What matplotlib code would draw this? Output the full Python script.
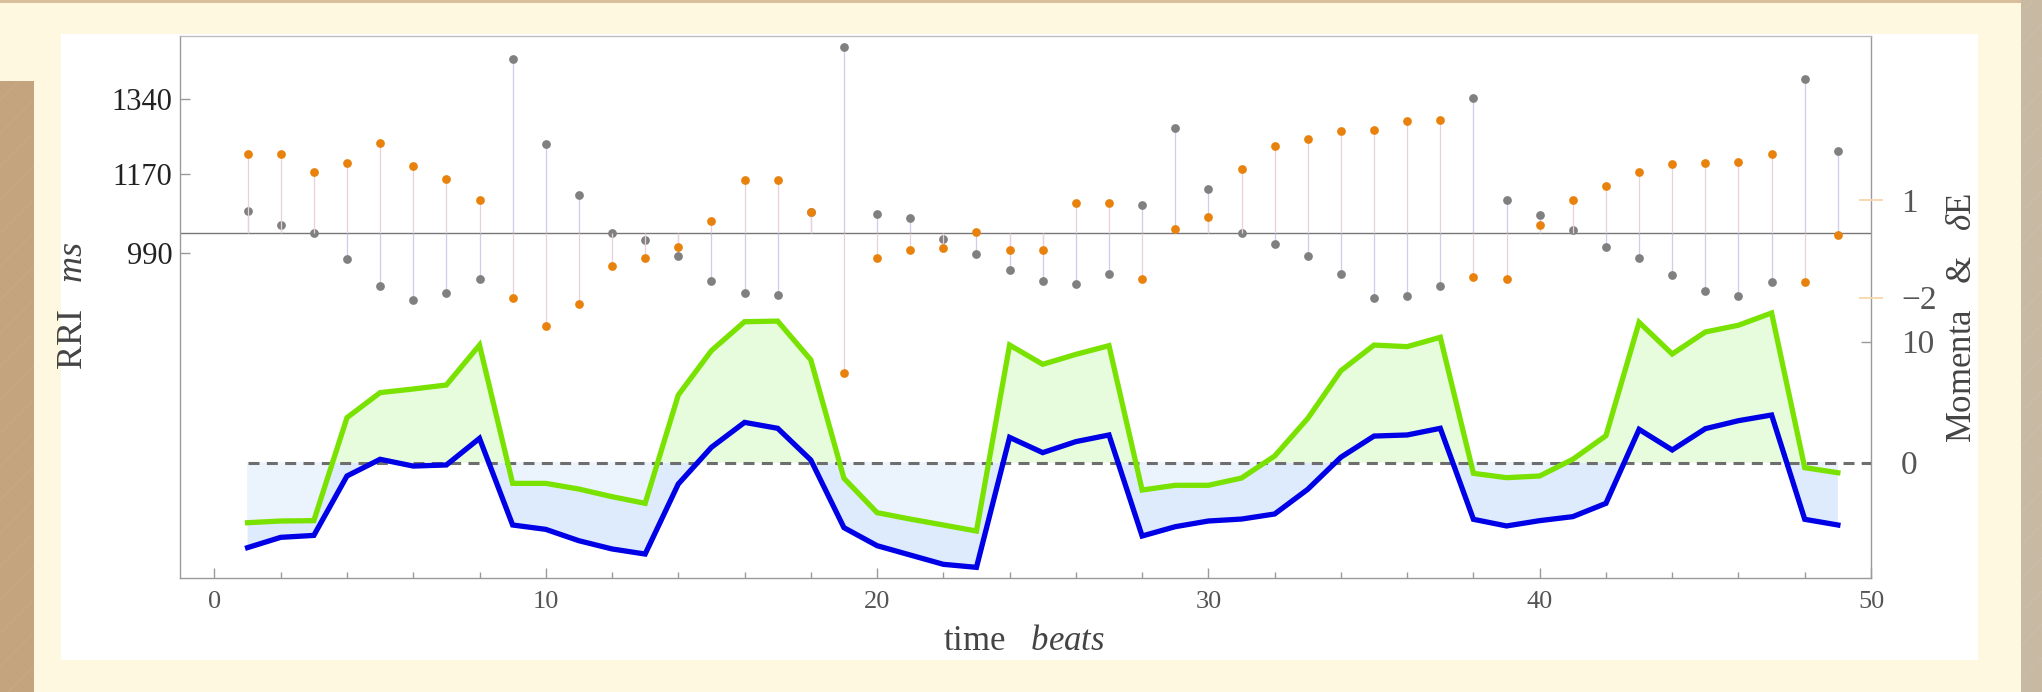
import numpy as np
import matplotlib.pyplot as plt
from matplotlib.patches import Rectangle
from matplotlib.ticker import MultipleLocator

plt.rcParams['font.family'] = ['Liberation Serif', 'DejaVu Serif']
plt.rcParams['mathtext.fontset'] = 'custom'
plt.rcParams['mathtext.rm'] = 'Liberation Serif'
plt.rcParams['mathtext.it'] = 'Liberation Serif:italic'
plt.rcParams['hatch.linewidth'] = 0.5

# ======= DATA =======
beats = np.arange(1, 50)

rri = np.array([1087, 1055, 1036, 976, 916, 884, 900, 932, 1431, 1239,
                1123, 1036, 1020, 984, 928, 899, 896, 1085, 1459, 1079,
                1071, 1023, 988, 951, 928, 920, 944, 1100, 1276, 1136,
                1036, 1011, 984, 944, 888, 892, 916, 1343, 1111, 1076,
                1044, 1004, 980, 940, 904, 892, 924, 1387, 1223])

delta_e = np.array([2.40, 2.41, 1.87, 2.14, 2.75, 2.03, 1.64, 1.01, -2.01, -2.86,
                    -2.19, -1.03, -0.78, -0.45, 0.36, 1.61, 1.62, 0.64, -4.32, -0.79,
                    -0.54, -0.48, 0.01, -0.54, -0.54, 0.92, 0.92, -1.43, 0.12, 0.49,
                    1.95, 2.67, 2.86, 3.12, 3.14, 3.43, 3.45, -1.35, -1.43, 0.23,
                    0.99, 1.44, 1.87, 2.11, 2.15, 2.18, 2.42, -1.51, -0.07])

mom_upper = np.array([-4.96, -4.82, -4.79, 3.72, 5.79, 6.09, 6.42, 9.72, -1.71, -1.71,
                      -2.18, -2.81, -3.36, 5.59, 9.26, 11.65, 11.7, 8.5, -1.29, -4.13,
                      -4.66, -5.15, -5.65, 9.72, 8.13, 8.95, 9.67, -2.26, -1.87, -1.87,
                      -1.27, 0.55, 3.66, 7.6, 9.72, 9.59, 10.36, -0.88, -1.24, -1.10,
                      0.28, 2.23, 11.6, 8.98, 10.8, 11.36, 12.37, -0.41, -0.83])

mom_lower = np.array([-7.02, -6.17, -6.01, -1.10, 0.28, -0.28, -0.19, 2.01, -5.15, -5.51,
                      -6.45, -7.13, -7.55, -1.76, 1.27, 3.33, 2.84, 0.22, -5.37, -6.86,
                      -7.63, -8.40, -8.65, 2.09, 0.83, 1.74, 2.29, -6.06, -5.29, -4.82,
                      -4.66, -4.24, -2.20, 0.45, 2.2, 2.29, 2.84, -4.68, -5.23, -4.79,
                      -4.46, -3.36, 2.75, 1.05, 2.81, 3.47, 3.94, -4.68, -5.15])

rri_ticks = [990, 1170, 1340]
de_ticks = [-2, 1]
mom_ticks = [0, 10]
x_ticks = [0, 10, 20, 30, 40, 50]

# ======= FIGURE / BACKGROUND =======
W, H = 2042, 692
fig = plt.figure(figsize=(W / 100, H / 100), dpi=100)
fig.patch.set_facecolor('#fff8e1')


def box(x0, y0, x1, y1, **kw):
    # pixel box (top-left origin) -> figure-fraction rectangle, behind the axes
    r = Rectangle((x0 / W, 1 - y1 / H), (x1 - x0) / W, (y1 - y0) / H,
                  transform=fig.transFigure, linewidth=0, zorder=-10, **kw)
    fig.add_artist(r)
    return r


box(0, 0, W, 3, facecolor='#d8c09c')
box(0, 81, 34, H, facecolor='#c3a47e', edgecolor='#c9ac88', hatch='/')
box(2021, 0, W, H, facecolor='#c8b9a3', edgecolor='#cec0ac', hatch='/')
box(61, 34, 1978, 660, facecolor='white')

# axes frame in pixels
L, T, R, B = 180, 36, 1871, 578
ax = fig.add_axes([L / W, 1 - B / H, (R - L) / W, (B - T) / H])
ax2 = ax.twinx()
ax3 = ax.twinx()

ax.set_xlim(-1.04, 50)
ax.set_ylim(252, 1484)
ax2.set_ylim(-10.606, 6.035)
ax3.set_ylim(-9.53, 35.26)

# ======= TOP: RRI and dE stems =======
base = rri.mean()
ax.axhline(base, color='#777777', lw=1.0, zorder=2)
ax.vlines(beats, base, rri, color='#cfcdec', lw=0.9, zorder=1)
ax2.vlines(beats, 0, delta_e, color='#ead0dc', lw=0.9, zorder=1)
ax.plot(beats, rri, 'o', color='#808080', ms=6.3, mew=0, zorder=3)
ax2.plot(beats, delta_e, 'o', color='#e8820c', ms=6.3, mew=0, zorder=3)

# ======= BOTTOM: momenta =======
ax3.fill_between(beats, mom_lower, 0, where=mom_lower < 0, interpolate=True,
                 color='#deebfc', lw=0, zorder=1)
ax3.fill_between(beats, mom_upper, 0, where=mom_upper < 0, interpolate=True,
                 color='#ebf3fd', lw=0, zorder=1)
ax3.fill_between(beats, mom_upper, 0, where=mom_upper > 0, interpolate=True,
                 color='#e6fcdc', lw=0, zorder=1)
ax3.hlines(0, 1, 50, color='#6e6e6e', lw=2.2, linestyle=(0, (3.6, 2.4)), zorder=2)
ax3.plot(beats, mom_upper, color='#7ae200', lw=3.8, zorder=3, solid_joinstyle='miter')
ax3.plot(beats, mom_lower, color='#0000e6', lw=3.8, zorder=4, solid_joinstyle='miter')

# ======= AXES STYLE =======
for a in (ax2, ax3):
    for s in a.spines.values():
        s.set_visible(False)
for name, s in ax.spines.items():
    s.set_color('#bdbdbd' if name == 'top' else '#9a9a9a')
    s.set_linewidth(1.0)

ax.set_xticks(x_ticks)
ax.xaxis.set_minor_locator(MultipleLocator(2))
ax.tick_params(axis='x', which='major', direction='in', length=7.5, width=1,
               color='#9a9a9a', labelsize=19, labelcolor='#555555', pad=9.5)
ax.tick_params(axis='x', which='minor', direction='in', length=4.5, width=1,
               color='#9a9a9a')
ax.set_yticks(rri_ticks)
ax.tick_params(axis='y', direction='in', length=7.5, width=1, color='#9a9a9a',
               labelsize=22, labelcolor='#222222', pad=5.5, right=False)

ax2.set_yticks(de_ticks)
ax2.tick_params(axis='y', direction='inout', length=17.6, width=1.3,
                color='#f9d6ab', labelsize=24, labelcolor='#555555', pad=12.8)
ax3.set_yticks(mom_ticks)
ax3.tick_params(axis='y', direction='in', length=7.5, width=1, color='#9a9a9a',
                labelsize=24, labelcolor='#555555', pad=21.6)

fig.text(73 / W, 1 - 306 / H, r'RRI   $ms$', rotation=90, ha='center',
         va='center', fontsize=26, color='#444444')
fig.text(1024 / W, 1 - 642 / H, r'time   $beats$', ha='center', va='center',
         fontsize=25, color='#444444')
fig.text(1962 / W, 1 - 318 / H, r'Momenta   &   $\delta$E', rotation=90,
         ha='center', va='center', fontsize=25, color='#444444')

fig.savefig('out.png', dpi=100, facecolor=fig.get_facecolor())
